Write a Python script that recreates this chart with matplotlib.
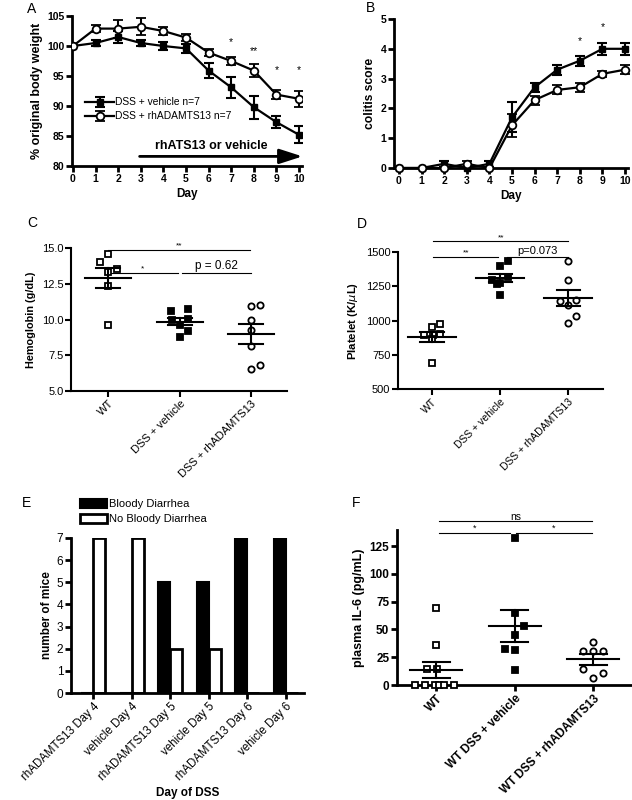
import numpy as np
import matplotlib.pyplot as plt

plt.rcParams['font.family'] = ['Liberation Sans', 'DejaVu Sans']

# ---- Data ----
days = np.arange(11)

# A: % original body weight
bw_vehicle = [100.0, 100.5, 101.5, 100.5, 100.0, 99.6, 95.9, 93.1, 89.8, 87.3, 85.2]
bw_vehicle_err = [0, 0.5, 1.0, 0.5, 0.7, 0.8, 1.3, 1.8, 1.9, 1.0, 1.4]
bw_rh = [100.0, 102.9, 102.9, 103.2, 102.5, 101.4, 98.9, 97.5, 95.9, 91.9, 91.2]
bw_rh_err = [0, 0.6, 1.5, 1.4, 0.7, 0.6, 0.6, 0.7, 1.1, 0.7, 1.3]
bw_star_days = [7, 8, 9, 10]
bw_star_text = ['*', '**', '*', '*']
bw_star_y = [99.9, 98.3, 95.2, 95.2]

# B: colitis score
cs_vehicle = [0, 0, 0.14, 0, 0.14, 1.70, 2.71, 3.30, 3.60, 4.00, 4.00]
cs_vehicle_err = [0, 0, 0.1, 0, 0.1, 0.5, 0.15, 0.17, 0.17, 0.2, 0.2]
cs_rh = [0, 0, 0, 0.14, 0, 1.43, 2.28, 2.62, 2.71, 3.16, 3.30]
cs_rh_err = [0, 0, 0, 0.1, 0, 0.38, 0.15, 0.15, 0.15, 0.1, 0.15]
cs_star_days = [8, 9]
cs_star_y = [4.1, 4.55]

# C: hemoglobin
groups_cd = ['WT', 'DSS + vehicle', 'DSS + rhADAMTS13']
hb_wt = [14.0, 14.6, 13.35, 13.55, 12.34, 9.64]
hb_vehicle = [10.57, 10.76, 9.94, 9.64, 10.06, 8.78, 9.2]
hb_rh = [10.92, 11.04, 9.99, 9.29, 8.17, 6.56, 6.84]

# D: platelet
plt_wt = [956, 976, 895, 895, 900, 863, 688]
plt_vehicle = [1437, 1395, 1298, 1273, 1317, 1183, 1270]
plt_rh = [1437, 1293, 1141, 1115, 1151, 1034, 985]

# E: bloody diarrhea counts
e_labels = ['rhADAMTS13 Day 4', 'vehicle Day 4', 'rhADAMTS13 Day 5',
            'vehicle Day 5', 'rhADAMTS13 Day 6', 'vehicle Day 6']
bloody = [0, 0, 5, 5, 7, 7]
no_bloody = [7, 7, 2, 2, 0, 0]

# F: plasma IL-6
groups_f = ['WT', 'WT DSS + vehicle', 'WT DSS + rhADAMTS13']
il6_wt = [69.2, 36.3, 14.4, 14.4, 0, 0, 0, 0, 0, 0]
il6_vehicle = [131.9, 64.7, 52.8, 45.3, 32.4, 31.8, 13.2]
il6_rh = [38.7, 30.3, 30.3, 30.3, 14.7, 10.8, 6.3]

# horizontal spread of the dots (layout only)
off_c = [[-0.12, 0, 0, 0.12, 0, 0], [-0.12, 0.12, -0.11, 0, 0.12, 0, 0.12],
         [0, 0.12, 0, 0, 0, 0, 0.12]]
off_d = [[0, 0.12, -0.12, 0.02, 0.12, 0, 0], [0.12, 0, -0.12, 0, 0.12, 0, -0.05],
         [0, 0, -0.12, 0, 0.12, 0.12, 0]]
off_f = [[0, 0, -0.12, 0.01, -0.27, -0.14, -0.02, 0.04, 0.1, 0.22],
         [0, 0, 0.12, 0, -0.12, 0, 0], [0, -0.13, 0, 0.12, -0.13, 0.12, 0]]

W, H = 632, 800
fig = plt.figure(figsize=(W / 100, H / 100), dpi=100)


def add_ax(l, t, r, b):
    return fig.add_axes([l / W, 1 - b / H, (r - l) / W, (b - t) / H])


def style(ax, lw=2.0, size=7, bold=True):
    for s in ['top', 'right']:
        ax.spines[s].set_visible(False)
    for s in ['left', 'bottom']:
        ax.spines[s].set_linewidth(lw)
    ax.tick_params(width=lw, length=4, labelsize=size, pad=1.5)
    if bold:
        for lab in ax.get_xticklabels() + ax.get_yticklabels():
            lab.set_fontweight('bold')


def dots(ax, x, vals, offs, marker, filled, ms=4.5, mean_w=0.32, sem_w=0.17):
    vals = np.asarray(vals, float)
    xs = x + np.asarray(offs)
    ax.plot(xs, vals, linestyle='none', marker=marker, ms=ms, mew=1.3,
            mec='black', mfc='black' if filled else 'white', zorder=3, clip_on=False)
    m = vals.mean()
    sem = vals.std(ddof=1) / np.sqrt(len(vals))
    ax.plot([x - mean_w, x + mean_w], [m, m], color='black', lw=1.5, zorder=4)
    ax.plot([x - sem_w, x + sem_w], [m + sem] * 2, color='black', lw=1.5, zorder=4)
    ax.plot([x - sem_w, x + sem_w], [m - sem] * 2, color='black', lw=1.5, zorder=4)
    ax.plot([x, x], [m - sem, m + sem], color='black', lw=1.5, zorder=4)


def sig(ax, x0, x1, y, text, dy, size=6):
    ax.plot([x0, x1], [y, y], color='black', lw=0.8, clip_on=False)
    ax.text((x0 + x1) / 2, y + dy, text, ha='center', va='bottom', fontsize=size)


# ---- A ----
axA = add_ax(72, 16, 302, 166)
axA.errorbar(days, bw_vehicle, yerr=bw_vehicle_err, color='black', lw=1.6,
             marker='s', ms=5, mfc='black', capsize=3.5, elinewidth=1.5, capthick=1.5,
             label='DSS + vehicle n=7', zorder=3)
axA.errorbar(days, bw_rh, yerr=bw_rh_err, color='black', lw=1.6,
             marker='o', ms=5.5, mfc='white', mew=1.3, capsize=3.5, elinewidth=1.5,
             capthick=1.5, label='DSS + rhADAMTS13 n=7', zorder=3)
for d, t, y in zip(bw_star_days, bw_star_text, bw_star_y):
    axA.text(d, y, t, ha='center', va='bottom', fontsize=7.5)
axA.annotate('', xy=(10.15, 81.6), xytext=(2.95, 81.6),
             arrowprops=dict(arrowstyle='-|>,head_length=1.4,head_width=0.45',
                             lw=2, color='black', shrinkA=0, shrinkB=0))
axA.text(6.1, 82.4, 'rhATS13 or vehicle', ha='center', va='bottom',
         fontsize=9, fontweight='bold')
axA.set_xlim(-0.04, 10.13)
axA.set_ylim(80, 105)
axA.set_xticks(days)
axA.set_yticks([80, 85, 90, 95, 100, 105])
style(axA, size=7.5)
axA.set_xlabel('Day', fontsize=8.5, fontweight='bold', labelpad=3)
axA.set_ylabel('% original body weight', fontsize=9, fontweight='bold', labelpad=3)
axA.legend(loc='upper left', bbox_to_anchor=(0.04, 0.485), frameon=False,
           fontsize=7.4, handlelength=2.8, handletextpad=0.1, labelspacing=0.4,
           borderaxespad=0)
fig.text(27 / W, 1 - 9 / H, 'A', fontsize=10, va='center', ha='left')

# ---- B ----
axB = add_ax(394, 19, 628, 168)
axB.errorbar(days, cs_vehicle, yerr=cs_vehicle_err, color='black', lw=1.6,
             marker='s', ms=5, mfc='black', capsize=3.5, elinewidth=1.5, capthick=1.5,
             zorder=3, clip_on=False)
axB.errorbar(days, cs_rh, yerr=cs_rh_err, color='black', lw=1.6,
             marker='o', ms=5.5, mfc='white', mew=1.3, capsize=3.5, elinewidth=1.5,
             capthick=1.5, zorder=3, clip_on=False)
for d, y in zip(cs_star_days, cs_star_y):
    axB.text(d, y, '*', ha='center', va='bottom', fontsize=7.5)
axB.set_xlim(-0.22, 10.13)
axB.set_ylim(0, 5)
axB.set_xticks(days)
axB.set_yticks(range(6))
style(axB, size=7.5)
axB.set_xlabel('Day', fontsize=8.5, fontweight='bold', labelpad=3)
axB.set_ylabel('colitis score', fontsize=8.7, fontweight='bold', labelpad=3)
fig.text(366 / W, 1 - 8 / H, 'B', fontsize=10, va='center', ha='left')

# ---- C ----
axC = add_ax(71, 248, 287, 391)
dots(axC, 0, hb_wt, off_c[0], 's', False)
dots(axC, 1, hb_vehicle, off_c[1], 's', True)
dots(axC, 2, hb_rh, off_c[2], 'o', False)
sig(axC, 0, 1.98, 14.88, '**', 0.02)
sig(axC, 0, 0.97, 13.27, '*', 0.02)
sig(axC, 1.03, 2.0, 13.27, 'p = 0.62', 0.05, size=8.5)
axC.set_xlim(-0.52, 2.5)
axC.set_ylim(5, 15)
axC.set_yticks([5, 7.5, 10, 12.5, 15])
axC.set_yticklabels(['5.0', '7.5', '10.0', '12.5', '15.0'])
axC.set_xticks([0, 1, 2])
axC.set_xticklabels(groups_cd, rotation=45, ha='right', rotation_mode='anchor')
style(axC, lw=1.5, size=8, bold=False)
axC.set_ylabel('Hemoglobin (g/dL)', fontsize=7.8, fontweight='bold', labelpad=4)
fig.text(27 / W, 1 - 223 / H, 'C', fontsize=10, va='center', ha='left')

# ---- D ----
axD = add_ax(398, 252, 603, 389)
dots(axD, 0, plt_wt, off_d[0], 's', False, mean_w=0.35)
dots(axD, 1, plt_vehicle, off_d[1], 's', True, mean_w=0.35)
dots(axD, 2, plt_rh, off_d[2], 'o', False, mean_w=0.35)
sig(axD, 0.02, 2.0, 1578, '**', 2)
sig(axD, 0.02, 0.97, 1463, '**', 2)
sig(axD, 1.1, 2.0, 1463, 'p=0.073', 6, size=8)
axD.set_xlim(-0.5, 2.51)
axD.set_ylim(500, 1500)
axD.set_yticks([500, 750, 1000, 1250, 1500])
axD.set_xticks([0, 1, 2])
axD.set_xticklabels(groups_cd, rotation=45, ha='right', rotation_mode='anchor')
style(axD, lw=1.5, size=8, bold=False)
axD.tick_params(axis='x', labelsize=7.5)
axD.set_ylabel('Platelet (K/$\\mu$L)', fontsize=8.2, fontweight='bold', labelpad=4)
fig.text(357 / W, 1 - 224 / H, 'D', fontsize=10, va='center', ha='left')

# ---- E ----
axE = add_ax(71, 538, 304, 693)
xe = np.arange(len(e_labels))
axE.bar(xe, bloody, width=-0.31, align='edge', color='black', edgecolor='black',
        lw=1.5, label='Bloody Diarrhea')
axE.bar(xe, no_bloody, width=0.31, align='edge', color='white', edgecolor='black',
        lw=2.0, label='No Bloody Diarrhea')
axE.set_xlim(-0.57, 5.47)
axE.set_ylim(0, 7)
axE.set_yticks(range(8))
axE.set_xticks(xe)
axE.set_xticklabels(e_labels, rotation=45, ha='right', rotation_mode='anchor')
style(axE, lw=2.0, size=8.5, bold=False)
axE.tick_params(axis='x', labelsize=8.3)
axE.set_xlabel('Day of DSS', fontsize=8.5, fontweight='bold', labelpad=3)
axE.set_ylabel('number of mice', fontsize=8.5, fontweight='bold', labelpad=3)
axE.legend(loc='upper left', bbox_to_anchor=(0.02, 1.28), frameon=False, fontsize=8,
           handlelength=2.4, handleheight=0.8, handletextpad=0.2, labelspacing=0.45,
           borderaxespad=0)
fig.text(22 / W, 1 - 503 / H, 'E', fontsize=10, va='center', ha='left')

# ---- F ----
axF = add_ax(397, 530, 631, 685)
dots(axF, 0, il6_wt, off_f[0], 's', False, ms=4.5, mean_w=0.33)
dots(axF, 1, il6_vehicle, off_f[1], 's', True, ms=4.5, mean_w=0.33)
dots(axF, 2, il6_rh, off_f[2], 'o', False, ms=4.5, mean_w=0.33)
sig(axF, 0.04, 1.98, 147.8, 'ns', -1.5, size=7.5)
sig(axF, 0.04, 0.94, 136.4, '*', 0.3, size=6.5)
sig(axF, 1.01, 1.98, 136.4, '*', 0.3, size=6.5)
axF.set_xlim(-0.5, 2.48)
axF.set_ylim(0, 139.4)
axF.set_yticks([0, 25, 50, 75, 100, 125])
axF.set_xticks([0, 1, 2])
axF.set_xticklabels(groups_f, rotation=45, ha='right', rotation_mode='anchor')
style(axF, lw=2.0, size=8.5, bold=True)
axF.set_ylabel('plasma IL-6 (pg/mL)', fontsize=9, fontweight='bold', labelpad=3)
fig.text(352 / W, 1 - 503 / H, 'F', fontsize=10, va='center', ha='left')

plt.savefig('out.png', dpi=100)
